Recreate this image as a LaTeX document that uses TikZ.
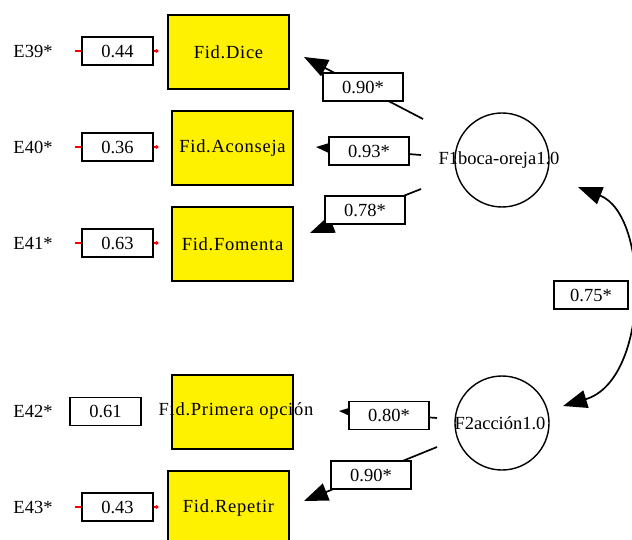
\documentclass[tikz,border=0pt]{standalone}
\usepackage{fontspec}
\setmainfont{Liberation Serif}
\usetikzlibrary{arrows.meta}
\begin{document}
\begin{tikzpicture}[x=1pt,y=-1pt,
  every node/.style={font=\fontsize{18.5}{20}\selectfont, inner sep=0pt},
  indicator/.style={draw=black, line width=1.8pt, fill=yellow, minimum width=121pt, minimum height=74pt,
    font=\fontsize{18.5}{20}\selectfont\addfontfeature{LetterSpace=4}},
  errbox/.style={draw=black, line width=1.8pt, fill=white, minimum width=71pt, minimum height=28pt},
  coefbox/.style={draw=black, line width=1.8pt, fill=white, minimum width=80pt, minimum height=28pt},
  factor/.style={draw=black, line width=1.4pt, circle, minimum size=94pt},
  tick/.style={red, line width=1.4pt},
  bigtip/.style={Triangle[length=24pt,width=18pt]},
  loading/.style={line width=1.7pt, -{Triangle[length=24pt,width=18pt]}},
]
\useasboundingbox (0,0) rectangle (632,540);

% observed indicators
\node[indicator] (dice) at (228.5,52) {Fid.Dice};
\node[indicator] (acon) at (232.5,148) {Fid.Aconseja};
\node[indicator] (fome) at (232.5,244) {Fid.Fomenta};
\node[indicator] (prim) at (232.5,412) {};
\node[font=\fontsize{18.5}{20}\selectfont\addfontfeature{LetterSpace=4}] (primtxt) at (236,411) {Fid.Primera opción};
\node[indicator] (repe) at (228.5,508) {Fid.Repetir};

% error terms
\node (e39) at (33,51) {E39*};
\node (e40) at (33,147) {E40*};
\node (e41) at (33,243) {E41*};
\node (e42) at (33,411) {E42*};
\node (e43) at (33,507) {E43*};

\node[errbox] (v39) at (117.5,51) {0.44};
\node[errbox] (v40) at (117.5,147) {0.36};
\node[errbox] (v41) at (117.5,243) {0.63};
\node[errbox] (v42) at (105.5,411.5) {0.61};
\node[errbox] (v43) at (117.5,507) {0.43};

\foreach \v in {v39,v40,v41,v43}{
  \draw[tick] (\v.west) -- ++(-6,0);
  \draw[tick, -{Triangle[length=3pt,width=4pt]}] (\v.east) -- ++(5,0);
}

% factors
\node[factor] (f1) at (502,160) {};
\node (f1txt) at (499,160) {F1boca-oreja1.0};
\node[factor] (f2) at (502,423) {};
\node (f2txt) at (500,423) {F2acción1.0};

% loading paths
\coordinate (s1) at (423,119); \coordinate (t1) at (304,57);
\coordinate (s2) at (421,155); \coordinate (t2) at (316,147);
\coordinate (s3) at (421,189); \coordinate (t3) at (310,233);
\coordinate (s4) at (437,418); \coordinate (t4) at (339,411);
\coordinate (s5) at (437,447); \coordinate (t5) at (304,501);

\draw[loading] (s1) -- (t1);
\draw[loading] (s2) -- (t2);
\draw[loading] (s3) -- (t3);
\draw[loading] (s4) -- (t4);
\draw[loading] (s5) -- (t5);

% factor covariance
\coordinate (c1) at (578,187);
\coordinate (c2) at (563,406);
\draw[line width=1.7pt, {Triangle[length=24pt,width=18pt]}-{Triangle[length=24pt,width=18pt]}]
  (c1) .. controls (650,215) and (650,380) .. (c2);

% coefficients
\node[coefbox] (l1) at (363,87) {0.90*};
\node[coefbox] (l2) at (369,151) {0.93*};
\node[coefbox] (l3) at (365,210) {0.78*};
\node[coefbox] (l4) at (389,415.5) {0.80*};
\node[coefbox] (l5) at (371,475) {0.90*};
\node[coefbox, minimum width=74pt] (cov) at (591,295) {0.75*};
\end{tikzpicture}
\end{document}
